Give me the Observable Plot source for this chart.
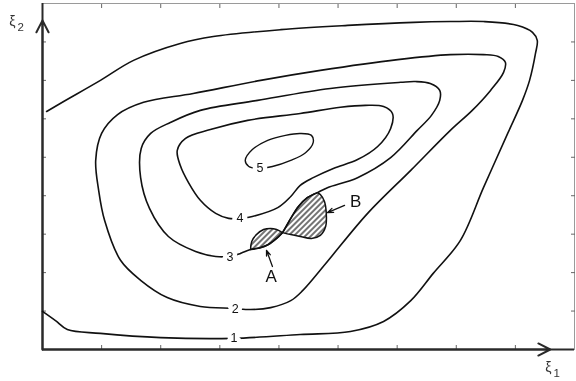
<!DOCTYPE html>
<html>
<head>
<meta charset="utf-8">
<script src="https://cdn.jsdelivr.net/npm/d3@7"></script>
<script src="https://cdn.jsdelivr.net/npm/@observablehq/plot@0.6"></script>
<style>
  body { margin: 0; background: #fff; }
  svg { display: block; will-change: transform; }
</style>
</head>
<body>
<div id="chart"></div>
<script>
// Contour levels of the surface over (ξ1, ξ2); each is a list of [ξ1, ξ2] points.
// Level 1 is open: it leaves through the left axis at both ends.
const contour1 = [
  [0, 0.99], [0.22, 0.75], [0.42, 0.52], [0.98, 0.42], [2.00, 0.31], [3.23, 0.29],
  [4.36, 0.39], [5.21, 0.47], [5.77, 0.73], [6.23, 1.27], [6.61, 1.98], [7.07, 2.84],
  [7.46, 4.21], [7.87, 5.62], [8.12, 6.48], [8.24, 7.00], [8.34, 7.70], [8.37, 8.04],
  [8.29, 8.25], [8.04, 8.43], [7.46, 8.53], [6.90, 8.53], [6.28, 8.51], [5.16, 8.43],
  [4.03, 8.32], [2.89, 8.14], [2.33, 7.96], [1.54, 7.52], [0.98, 7.00], [0.30, 6.40],
  [0.07, 6.19]
];
const contour2 = [
  [3.23, 1.07], [3.52, 1.04], [3.86, 1.09], [4.20, 1.27], [4.40, 1.53], [4.82, 2.29],
  [5.50, 3.54], [6.23, 4.66], [6.90, 5.70], [7.27, 6.22], [7.58, 6.74], [7.80, 7.21],
  [7.83, 7.47], [7.71, 7.62], [7.46, 7.67], [6.90, 7.67], [6.01, 7.54], [4.70, 7.26],
  [3.69, 7.00], [2.55, 6.66], [1.71, 6.43], [1.27, 6.11], [1.00, 5.62], [0.90, 4.92],
  [0.95, 4.14], [1.05, 3.36], [1.32, 2.32], [1.66, 1.80], [2.11, 1.35], [2.67, 1.12]
];
const contour3 = [
  [3.16, 2.42], [3.35, 2.50], [3.52, 2.60], [3.69, 2.65], [3.82, 2.73], [3.96, 2.89],
  [4.06, 3.04], [4.20, 3.41], [4.33, 3.72], [4.48, 3.95], [4.65, 4.08], [4.82, 4.21],
  [5.33, 4.47], [5.89, 4.99], [6.34, 5.70], [6.58, 6.09], [6.72, 6.48], [6.72, 6.74],
  [6.56, 6.92], [6.31, 6.97], [6.06, 6.95], [4.87, 6.79], [3.64, 6.48], [2.67, 6.22],
  [2.17, 5.91], [1.83, 5.62], [1.67, 5.23], [1.66, 4.47], [1.81, 3.67], [2.13, 2.94],
  [2.59, 2.55], [2.93, 2.42]
];
const contour4 = [
  [3.35, 3.41], [3.55, 3.46], [3.98, 3.69], [4.20, 3.98], [4.36, 4.27], [4.58, 4.47],
  [4.92, 4.71], [5.33, 4.94], [5.67, 5.28], [5.89, 5.75], [5.92, 6.14], [5.77, 6.32],
  [5.46, 6.35], [5.04, 6.30], [4.36, 6.14], [3.47, 5.96], [2.84, 5.72], [2.42, 5.49],
  [2.28, 5.18], [2.33, 4.79], [2.47, 4.34], [2.67, 3.88], [2.93, 3.54], [3.15, 3.41]
];
const contour5 = [
  [3.43, 4.92], [3.55, 5.20], [3.81, 5.44], [4.11, 5.57], [4.36, 5.62], [4.55, 5.57],
  [4.58, 5.39], [4.45, 5.12], [4.20, 4.92], [3.89, 4.76], [3.67, 4.71], [3.49, 4.76]
];

// Level labels sit on their contour lines
const contourLabels = [
  {text: "1", x: 3.24, y: 0.31},
  {text: "2", x: 3.26, y: 1.05},
  {text: "3", x: 3.17, y: 2.41},
  {text: "4", x: 3.34, y: 3.41},
  {text: "5", x: 3.68, y: 4.71}
];

// Second boundary of the two hatched regions (the first is level 3 itself)
const regionAUpper = [
  [3.52, 2.60], [3.54, 2.81], [3.62, 2.99], [3.74, 3.12], [3.86, 3.15], [3.96, 3.12], [4.06, 3.04]
];
const regionBLower = [
  [4.06, 3.04], [4.20, 2.99], [4.36, 2.94], [4.55, 2.89], [4.70, 2.97], [4.79, 3.20],
  [4.80, 3.56], [4.77, 3.85], [4.70, 4.03], [4.65, 4.08]
];
const regionLabels = [
  {text: "A", x: 3.87, y: 1.89},
  {text: "B", x: 5.30, y: 3.85}
];
const pointers = [
  {x1: 3.89, y1: 2.16, x2: 3.79, y2: 2.58},
  {x1: 5.11, y1: 3.75, x2: 4.82, y2: 3.56}
];

const xTicks = [1, 2, 3, 4, 5, 6, 7, 8];
const yTicks = [1, 2, 3, 4, 5, 6, 7, 8];
const axisArrows = [
  {x1: 0, y1: 0, x2: 0, y2: 8.56},
  {x1: 0, y1: 0, x2: 8.59, y2: 0}
];
const axisLabels = [
  {text: "ξ", x: -0.51, y: 8.53, size: 14},
  {text: "2", x: -0.37, y: 8.37, size: 11.5},
  {text: "ξ", x: 8.56, y: -0.47, size: 14},
  {text: "1", x: 8.70, y: -0.61, size: 11.5}
];

// Closed outlines of the hatched regions, built from level 3 and the extra boundaries
const regionA = [...regionAUpper, ...contour3.slice(2, 7).reverse()];
const regionB = [...contour3.slice(6, 11), ...regionBLower.slice().reverse()];

const font = "Liberation Sans, Arial, Helvetica, sans-serif";
const ink = "#111";
const px = (d) => d[0], py = (d) => d[1];
const contourStyle = {x: px, y: py, stroke: ink, strokeWidth: 1.6};

const chart = Plot.plot({
  width: 576,
  height: 381,
  marginLeft: 42,
  marginRight: 2,
  marginTop: 3,
  marginBottom: 32,
  style: {background: "#fff", fontFamily: font, overflow: "visible"},
  x: {domain: [0, 9]},
  y: {domain: [0, 9]},
  marks: [
    Plot.frame({stroke: "#9a9a9a", strokeWidth: 1}),
    Plot.axisX({anchor: "bottom", ticks: xTicks, tickSize: -4, stroke: "#666", fill: "none", label: null}),
    Plot.axisX({anchor: "top", ticks: xTicks, tickSize: -4, stroke: "#666", fill: "none", label: null}),
    Plot.axisY({anchor: "left", ticks: yTicks, tickSize: -4, stroke: "#666", fill: "none", label: null}),
    Plot.axisY({anchor: "right", ticks: yTicks, tickSize: -4, stroke: "#666", fill: "none", label: null}),
    Plot.ruleX([0], {stroke: "#2a2a2a", strokeWidth: 2}),
    Plot.ruleY([0], {stroke: "#2a2a2a", strokeWidth: 2}),
    Plot.arrow(axisArrows, {x1: "x1", y1: "y1", x2: "x2", y2: "y2", stroke: "#2a2a2a", strokeWidth: 2, headLength: 10, headAngle: 54}),

    Plot.line(regionA, {x: px, y: py, curve: "catmull-rom", fill: "url(#hatch)", stroke: ink, strokeWidth: 1.5}),
    Plot.line(regionB, {x: px, y: py, curve: "catmull-rom", fill: "url(#hatch)", stroke: ink, strokeWidth: 1.5}),

    Plot.line(contour1, {...contourStyle, curve: "catmull-rom"}),
    Plot.line(contour2, {...contourStyle, curve: "catmull-rom-closed"}),
    Plot.line(contour3, {...contourStyle, curve: "catmull-rom-closed"}),
    Plot.line(contour4, {...contourStyle, curve: "catmull-rom-closed"}),
    Plot.line(contour5, {...contourStyle, curve: "catmull-rom-closed", strokeWidth: 1.4}),

    Plot.text(contourLabels, {x: "x", y: "y", text: "text", fontSize: 12.5, fill: ink,
      stroke: "white", strokeWidth: 9, paintOrder: "stroke"}),

    Plot.arrow(pointers, {x1: "x1", y1: "y1", x2: "x2", y2: "y2", stroke: ink, strokeWidth: 1.3, headLength: 9, headAngle: 40}),
    Plot.text(regionLabels, {x: "x", y: "y", text: "text", fontSize: 17, fill: ink}),

    Plot.text(axisLabels, {x: "x", y: "y", text: "text", fontSize: (d) => d.size, fill: "#333"})
  ]
});

// Diagonal hatching used to fill regions A and B
const defs = d3.select(chart).insert("defs", ":first-child");
const pattern = defs.append("pattern")
  .attr("id", "hatch")
  .attr("patternUnits", "userSpaceOnUse")
  .attr("width", 4)
  .attr("height", 10)
  .attr("patternTransform", "rotate(45)");
pattern.append("rect").attr("width", 4).attr("height", 10).attr("fill", "#fff");
pattern.append("line")
  .attr("x1", 2).attr("y1", 0).attr("x2", 2).attr("y2", 10)
  .attr("stroke", "#000").attr("stroke-width", 1.1);

document.getElementById("chart").append(chart);
</script>
</body>
</html>
